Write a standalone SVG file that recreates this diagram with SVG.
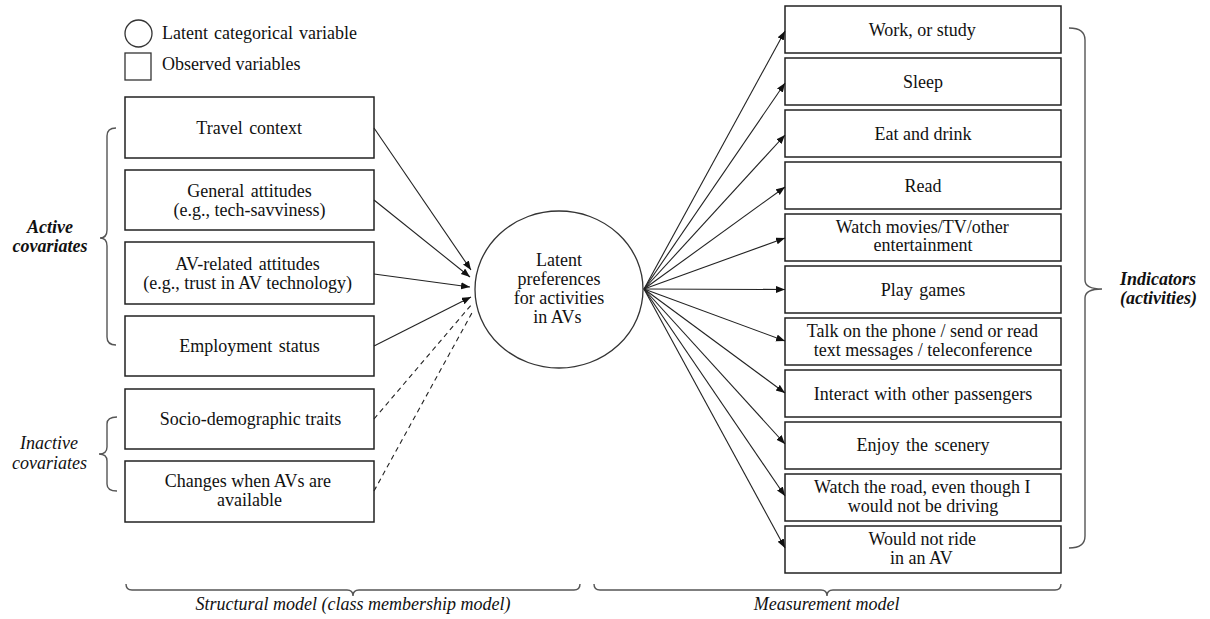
<svg xmlns="http://www.w3.org/2000/svg" width="1210" height="619" viewBox="0 0 1210 619">
<style>
.box{fill:#fff;stroke:#222;stroke-width:1.5}
.ln{stroke:#222;stroke-width:1.1;fill:none}
.dash{stroke:#222;stroke-width:1.1;fill:none;stroke-dasharray:5,4}
.brace{stroke:#555;stroke-width:1.4;fill:none}
.lab{font-style:italic}
.blab{font-style:italic;font-weight:bold}
</style>
<defs>
<marker id="ah" markerUnits="userSpaceOnUse" markerWidth="10" markerHeight="8" refX="9" refY="3.5" orient="auto">
<path d="M0,0 L9,3.5 L0,7 z" fill="#111"/>
</marker>
</defs>
<rect width="1210" height="619" fill="#fff"/>

<g id="legend">
<circle cx="138.5" cy="33.5" r="13.5" fill="#fff" stroke="#333" stroke-width="1.3"/>
<text font-family="Liberation Serif, serif" font-size="18" fill="#111" x="162" y="39" word-spacing="1.5">Latent categorical variable</text>
<rect x="125" y="53" width="26" height="27" fill="#fff" stroke="#333" stroke-width="1.3"/>
<text font-family="Liberation Serif, serif" font-size="18" fill="#111" x="162" y="70">Observed variables</text>
</g>

<g id="latent">
<ellipse cx="559" cy="289.5" rx="84" ry="78.5" fill="#fff" stroke="#333" stroke-width="1.3"/>
<text font-family="Liberation Serif, serif" font-size="18" fill="#111" x="536" y="266">Latent</text>
<text font-family="Liberation Serif, serif" font-size="18" fill="#111" x="517.5" y="285">preferences</text>
<text font-family="Liberation Serif, serif" font-size="18" fill="#111" x="513.8" y="304">for activities</text>
<text font-family="Liberation Serif, serif" font-size="18" fill="#111" x="533.3" y="323">in AVs</text>
</g>

<g id="travel-context"><rect class="box" x="125" y="97" width="249" height="61"/><text font-family="Liberation Serif, serif" font-size="18" fill="#111" x="196.3" y="133.5" word-spacing="2">Travel context</text></g>
<g id="general-attitudes"><rect class="box" x="125" y="170" width="249" height="60"/><text font-family="Liberation Serif, serif" font-size="18" fill="#111" x="187.3" y="197" word-spacing="2">General attitudes</text><text font-family="Liberation Serif, serif" font-size="18" fill="#111" x="173.5" y="216">(e.g., tech-savviness)</text></g>
<g id="av-attitudes"><rect class="box" x="125" y="242" width="249" height="62"/><text font-family="Liberation Serif, serif" font-size="18" fill="#111" x="175.3" y="270" word-spacing="2">AV-related attitudes</text><text font-family="Liberation Serif, serif" font-size="18" fill="#111" x="143.3" y="289">(e.g., trust in AV technology)</text></g>
<g id="employment"><rect class="box" x="125" y="316" width="249" height="60"/><text font-family="Liberation Serif, serif" font-size="18" fill="#111" x="179.2" y="352" word-spacing="2">Employment status</text></g>
<g id="socio"><rect class="box" x="125" y="389" width="249" height="60"/><text font-family="Liberation Serif, serif" font-size="18" fill="#111" x="159.7" y="424.5">Socio-demographic traits</text></g>
<g id="changes"><rect class="box" x="125" y="461" width="249" height="61"/><text font-family="Liberation Serif, serif" font-size="18" fill="#111" x="164.8" y="487">Changes when AVs are</text><text font-family="Liberation Serif, serif" font-size="18" fill="#111" x="217" y="506">available</text></g>

<g id="work"><rect class="box" x="785" y="6" width="276" height="47"/><text font-family="Liberation Serif, serif" font-size="18" fill="#111" x="868.8" y="35.5">Work, or study</text></g>
<g id="sleep"><rect class="box" x="785" y="58" width="276" height="47"/><text font-family="Liberation Serif, serif" font-size="18" fill="#111" x="903" y="87.5">Sleep</text></g>
<g id="eat"><rect class="box" x="785" y="110" width="276" height="47"/><text font-family="Liberation Serif, serif" font-size="18" fill="#111" x="874.5" y="139.5">Eat and drink</text></g>
<g id="read"><rect class="box" x="785" y="162" width="276" height="47"/><text font-family="Liberation Serif, serif" font-size="18" fill="#111" x="904.5" y="191.5">Read</text></g>
<g id="watch-movies"><rect class="box" x="785" y="214" width="276" height="47"/><text font-family="Liberation Serif, serif" font-size="18" fill="#111" x="835.8" y="233">Watch movies/TV/other</text><text font-family="Liberation Serif, serif" font-size="18" fill="#111" x="873.5" y="251">entertainment</text></g>
<g id="games"><rect class="box" x="785" y="266" width="276" height="47"/><text font-family="Liberation Serif, serif" font-size="18" fill="#111" x="880.8" y="295.5" word-spacing="2">Play games</text></g>
<g id="talk"><rect class="box" x="785" y="318" width="276" height="47"/><text font-family="Liberation Serif, serif" font-size="18" fill="#111" x="806.8" y="337">Talk on the phone / send or read</text><text font-family="Liberation Serif, serif" font-size="18" fill="#111" x="813.8" y="356">text messages / teleconference</text></g>
<g id="interact"><rect class="box" x="785" y="370" width="276" height="47"/><text font-family="Liberation Serif, serif" font-size="18" fill="#111" x="813.8" y="399.5" word-spacing="1">Interact with other passengers</text></g>
<g id="scenery"><rect class="box" x="785" y="422" width="276" height="47"/><text font-family="Liberation Serif, serif" font-size="18" fill="#111" x="856.5" y="451" word-spacing="2">Enjoy the scenery</text></g>
<g id="watch-road"><rect class="box" x="785" y="474" width="276" height="47"/><text font-family="Liberation Serif, serif" font-size="18" fill="#111" x="814" y="493">Watch the road, even though I</text><text font-family="Liberation Serif, serif" font-size="18" fill="#111" x="847.8" y="512">would not be driving</text></g>
<g id="no-ride"><rect class="box" x="785" y="526" width="276" height="47"/><text font-family="Liberation Serif, serif" font-size="18" fill="#111" x="868.5" y="545">Would not ride</text><text font-family="Liberation Serif, serif" font-size="18" fill="#111" x="890" y="564">in an AV</text></g>

<g id="active-brace">
<path class="brace" d="M116,128 Q107,128 107,136 L107,230 Q107,238 100,238 Q107,238 107,246 L107,337 Q107,345 116,345"/>
<text class="blab" font-family="Liberation Serif, serif" font-size="18" fill="#111" x="27" y="233">Active</text>
<text class="blab" font-family="Liberation Serif, serif" font-size="18" fill="#111" x="12.5" y="252">covariates</text>
</g>
<g id="inactive-brace">
<path class="brace" d="M117,417 Q107,417 107,424 L107,447 Q107,454 99,454 Q107,454 107,461 L107,484 Q107,491 117,491"/>
<text class="lab" font-family="Liberation Serif, serif" font-size="18" fill="#111" x="20" y="449">Inactive</text>
<text class="lab" font-family="Liberation Serif, serif" font-size="18" fill="#111" x="12" y="469">covariates</text>
</g>
<g id="indicators-brace">
<path class="brace" d="M1069,28 Q1085,28 1085,40 L1085,280 Q1085,289 1102,289 Q1085,289 1085,298 L1085,536 Q1085,548 1069,548"/>
<text class="blab" font-family="Liberation Serif, serif" font-size="18" fill="#111" x="1120" y="285">Indicators</text>
<text class="blab" font-family="Liberation Serif, serif" font-size="18" fill="#111" x="1120" y="304">(activities)</text>
</g>
<g id="structural-brace">
<path class="brace" d="M126,584 Q126,590 132,590 L347,590 Q353,590 353,596 Q353,590 359,590 L574,590 Q580,590 580,584"/>
<text class="lab" font-family="Liberation Serif, serif" font-size="18" fill="#111" x="195.5" y="610">Structural model (class membership model)</text>
</g>
<g id="measurement-brace">
<path class="brace" d="M594,584 Q594,590 600,590 L821,590 Q827,590 827,596 Q827,590 833,590 L1055,590 Q1061,590 1061,584"/>
<text class="lab" font-family="Liberation Serif, serif" font-size="18" fill="#111" x="753.8" y="610">Measurement model</text>
</g>

<g id="connectors">
<line class="ln" x1="374" y1="128" x2="471" y2="270" marker-end="url(#ah)"/>
<line class="ln" x1="374" y1="200" x2="470" y2="277" marker-end="url(#ah)"/>
<line class="ln" x1="374" y1="274" x2="470" y2="287" marker-end="url(#ah)"/>
<line class="ln" x1="374" y1="346" x2="471" y2="297" marker-end="url(#ah)"/>
<line class="dash" x1="374" y1="419" x2="472" y2="304"/>
<line class="dash" x1="374" y1="491" x2="473" y2="311"/>
<line class="ln" x1="644" y1="289" x2="785" y2="31" marker-end="url(#ah)"/>
<line class="ln" x1="644" y1="289" x2="785" y2="83" marker-end="url(#ah)"/>
<line class="ln" x1="644" y1="289" x2="785" y2="135" marker-end="url(#ah)"/>
<line class="ln" x1="644" y1="289" x2="785" y2="187" marker-end="url(#ah)"/>
<line class="ln" x1="644" y1="289" x2="785" y2="238" marker-end="url(#ah)"/>
<line class="ln" x1="644" y1="289" x2="785" y2="289.5" marker-end="url(#ah)"/>
<line class="ln" x1="644" y1="289" x2="785" y2="341" marker-end="url(#ah)"/>
<line class="ln" x1="644" y1="289" x2="785" y2="393" marker-end="url(#ah)"/>
<line class="ln" x1="644" y1="289" x2="785" y2="444" marker-end="url(#ah)"/>
<line class="ln" x1="644" y1="289" x2="785" y2="496" marker-end="url(#ah)"/>
<line class="ln" x1="644" y1="289" x2="785" y2="548" marker-end="url(#ah)"/>
</g>
</svg>
